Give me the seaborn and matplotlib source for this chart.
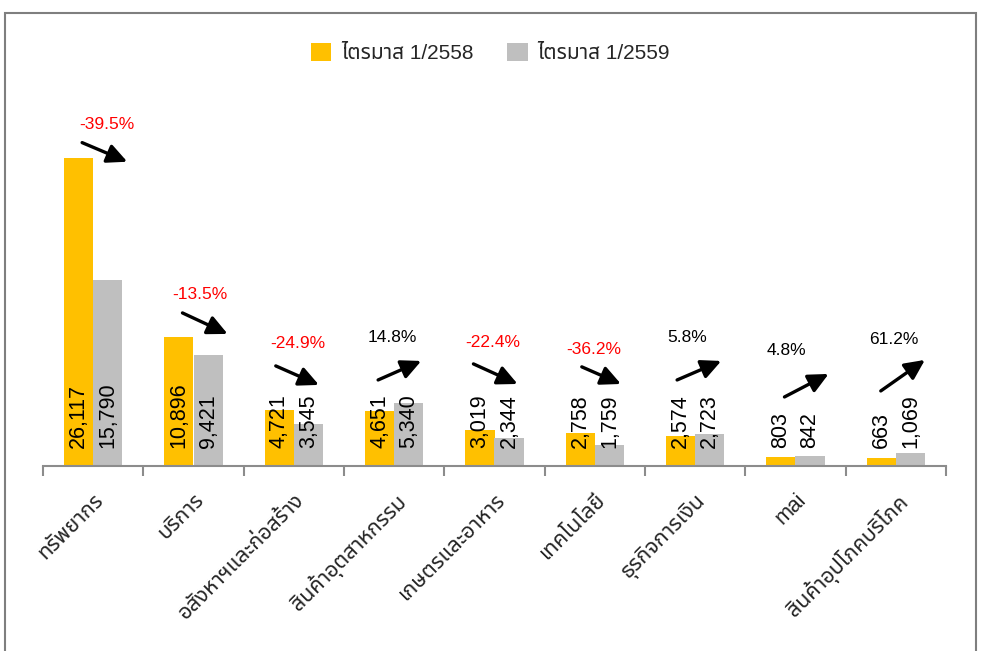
import matplotlib
matplotlib.use("Agg")
import matplotlib.pyplot as plt
import seaborn as sns
import pandas as pd
from matplotlib import font_manager
from matplotlib.patches import Rectangle

# ---------------- data ----------------
categories = ["ทรัพยากร", "บริการ", "อสังหาฯและก่อสร้าง", "สินค้าอุตสาหกรรม",
              "เกษตรและอาหาร", "เทคโนโลยี", "ธุรกิจการเงิน", "mai",
              "สินค้าอุปโภคบริโภค"]
series_names = ["ไตรมาส 1/2558", "ไตรมาส 1/2559"]
q1_2558 = [26117, 10896, 4721, 4651, 3019, 2758, 2574, 803, 663]
q1_2559 = [15790, 9421, 3545, 5340, 2344, 1759, 2723, 842, 1069]
pct_change = [-39.5, -13.5, -24.9, 14.8, -22.4, -36.2, 5.8, 4.8, 61.2]

# ---------------- layout (annotation placement) ----------------
pct_label_y = [28900, 14500, 10350, 10850, 10500, 9900, 10850, 9750, 10700]
pct_dx = [0.14, 0.06, 0.04, -0.02, -0.02, -0.01, -0.08, -0.09, -0.02]
arrow_y0 = [27400, 12970, 8480, 7290, 8650, 8400, 7290, 5850, 6360]
arrow_y1 = [25780, 11190, 6870, 8900, 6950, 6950, 8900, 7800, 8990]
arrow_dx0 = [-0.11, -0.11, -0.18, -0.16, -0.21, -0.13, -0.18, -0.11, -0.15]
arrow_dx1 = [0.34, 0.34, 0.25, 0.27, 0.23, 0.26, 0.26, 0.33, 0.29]


def find_thai_font():
    try:
        from fontTools.ttLib import TTFont
    except Exception:
        return None
    names = []
    for f in font_manager.fontManager.ttflist:
        try:
            tt = TTFont(f.fname, fontNumber=0, lazy=True)
            cmap = tt.getBestCmap()
            if cmap and 0x0E17 in cmap and 0x0E23 in cmap and 0x0E31 in cmap:
                names.append(f.name)
        except Exception:
            pass
    for pref in ["Tahoma", "Noto Sans Thai", "Noto Sans Thai UI", "Loma", "Garuda",
                 "Sarabun", "Kinnari"]:
        if pref in names:
            return pref
    return names[0] if names else None


sns.set_theme(style="white")
thai = find_thai_font()
fam = ["Liberation Sans", "DejaVu Sans"]
thai_fam = ["Liberation Sans"] + ([thai] if thai else []) + ["DejaVu Sans"]
plt.rcParams["font.family"] = thai_fam

YELLOW = "#FFC000"
GRAY = "#BFBFBF"
AXIS = "#8C8C8C"

df = pd.DataFrame({
    "category": categories * 2,
    "series": [series_names[0]] * len(categories) + [series_names[1]] * len(categories),
    "value": q1_2558 + q1_2559,
})

fig = plt.figure(figsize=(9.82, 6.51), dpi=100)
ax = fig.add_axes([43 / 982, 1 - 466 / 651, (946 - 43) / 982, (466 - 60) / 651])

sns.barplot(data=df, x="category", y="value", hue="series", order=categories,
            hue_order=series_names, palette=[YELLOW, GRAY], saturation=1,
            width=0.58, ax=ax, edgecolor="none", linewidth=0)

ax.set_xlim(-0.5, len(categories) - 0.5)
ax.set_ylim(0, 34400)
ax.set_xlabel("")
ax.set_ylabel("")
ax.set_yticks([])
for s in ["top", "left", "right"]:
    ax.spines[s].set_visible(False)
ax.spines["bottom"].set_color(AXIS)
ax.spines["bottom"].set_linewidth(1.5)

# ticks at category boundaries
ax.set_xticks([i - 0.5 for i in range(len(categories) + 1)], minor=True)
ax.tick_params(axis="x", which="minor", length=7, width=1.5, color=AXIS, direction="out",
               bottom=True)
ax.tick_params(axis="x", which="major", length=0, pad=17)
ax.set_xticks(range(len(categories)))
ax.set_xticklabels(categories, rotation=45, ha="right", rotation_mode="anchor",
                   fontsize=15.5, family=thai_fam)

# value labels inside bars
for ci, vals in enumerate([q1_2558, q1_2559]):
    cont = ax.containers[ci]
    for bar, v in zip(cont, vals):
        xc = bar.get_x() + bar.get_width() / 2
        ax.text(xc, 1550, f"{v:,}", rotation=90, ha="center", va="bottom",
                fontsize=15.5, color="black", family=fam)

# percent changes and arrows
for i, p in enumerate(pct_change):
    color = "#FF0000" if p < 0 else "black"
    ax.text(i + pct_dx[i], pct_label_y[i], f"{p:.1f}%", ha="center", va="center",
            fontsize=12.5, color=color, family=fam)
    ax.annotate("", xy=(i + arrow_dx1[i], arrow_y1[i]), xytext=(i + arrow_dx0[i], arrow_y0[i]),
                arrowprops=dict(arrowstyle="-|>,head_length=0.75,head_width=0.36",
                                color="black", lw=2.4, mutation_scale=16,
                                shrinkA=0, shrinkB=0))

# legend
leg = ax.legend(loc="center", bbox_to_anchor=(490 / 982, 1 - 53 / 651),
                bbox_transform=fig.transFigure, ncol=2, frameon=False,
                handlelength=1.0, handleheight=1.0,
                handletextpad=0.45, columnspacing=1.6,
                prop={"family": thai_fam, "size": 15})

# outer frame
fig.patches.append(Rectangle((5 / 982, -0.05), (976 - 5) / 982, 1 - 12.5 / 651 + 0.05,
                             transform=fig.transFigure, fill=False,
                             edgecolor="#7F7F7F", linewidth=1.5))

fig.savefig("out.png", dpi=100)
